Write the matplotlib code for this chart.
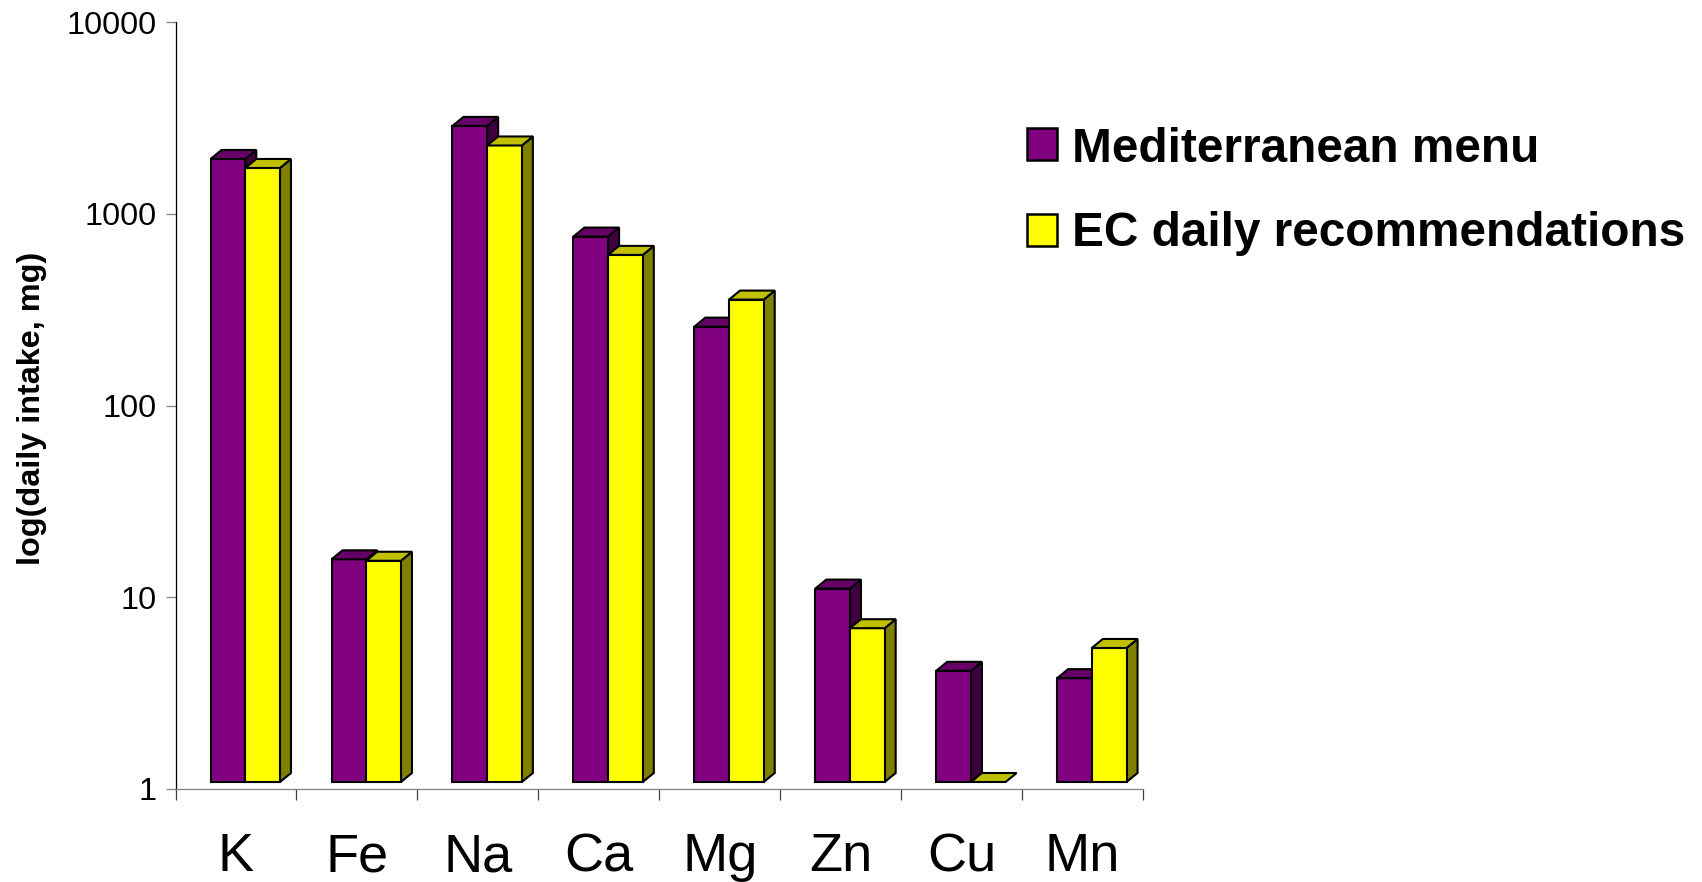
import numpy as np
import matplotlib
matplotlib.use("Agg")
import matplotlib.pyplot as plt
from matplotlib.patches import Rectangle

plt.rcParams["font.family"] = ["Liberation Sans", "DejaVu Sans"]

W, H = 1702, 882
PURPLE = ("#800080", "#660066", "#400040")   # front, top, side
YELLOW = ("#ffff00", "#c0c000", "#808000")

elements = ["K", "Fe", "Na", "Ca", "Mg", "Zn", "Cu", "Mn"]
med_menu = [1775, 14.5, 2640, 699, 237, 10.2, 3.8, 3.48]
ec_recs = [1593, 14.25, 2087, 561, 328, 6.34, 1.0, 5.0]
yticks = [1, 10, 100, 1000, 10000]

# 3d look, in pixels
DEPTH_X, DEPTH_Y = 11, 9
LIFT = 7          # bars stand this far above the axis line
BAR_W = 0.287
BAR_START = 0.29


def px_rect(ax, x0, x1, v):
    (xa, ya) = ax.transData.transform((x0, v))
    (xb, yb) = ax.transData.transform((x1, v))
    (_, y0) = ax.transData.transform((x0, 1))
    return xa, xb, y0 + LIFT, yb + LIFT


def bar3d(ax, x0, x1, v, cols):
    l, r, b, t = px_rect(ax, x0, x1, v)
    dx, dy = DEPTH_X, DEPTH_Y
    kw = dict(edgecolor="black", lw=1.5, joinstyle="miter", transform=None, clip_on=False)
    if t - b > 0.5:
        ax.fill([r, r + dx, r + dx, r], [b, b + dy, t + dy, t], facecolor=cols[2], **kw)
        ax.fill([l, r, r, l], [b, b, t, t], facecolor=cols[0], **kw)
    ax.fill([l, r, r + dx, l + dx], [t, t, t + dy, t + dy], facecolor=cols[1], **kw)


fig = plt.figure(figsize=(W / 100, H / 100), dpi=100)
ax = fig.add_axes([175.5 / W, (H - 789) / H, 967.5 / W, 767 / H])
ax.set_yscale("log")
ax.set_ylim(1, 10000)
ax.set_xlim(0, len(elements))
ax.patch.set_visible(False)

for i in range(len(elements)):
    x0 = i + BAR_START
    bar3d(ax, x0, x0 + BAR_W, med_menu[i], PURPLE)
    bar3d(ax, x0 + BAR_W, x0 + 2 * BAR_W, ec_recs[i], YELLOW)

ax.spines["top"].set_visible(False)
ax.spines["right"].set_visible(False)
ax.spines["left"].set_color("black")
ax.spines["left"].set_linewidth(0.9)
ax.spines["bottom"].set_color("#808080")
ax.spines["bottom"].set_linewidth(0.9)

ax.set_yticks(yticks)
ax.set_yticklabels([str(v) for v in yticks], fontsize=23.3)
ax.minorticks_off()
ax.tick_params(axis="y", length=7.5, width=0.9, color="#808080", pad=5.8)

ax.set_xticks(np.arange(len(elements) + 1))
ax.set_xticklabels([])
ax.set_xticks(np.arange(len(elements)) + 0.5, minor=True)
ax.set_xticklabels(elements, minor=True, fontsize=39)
ax.tick_params(axis="x", which="major", length=8, width=0.9, color="#404040")
ax.tick_params(axis="x", which="minor", length=0, pad=31)

fig.text(32 / W, 1 - 408 / H, "log(daily intake, mg)", rotation=90, fontsize=23.3,
         fontweight="bold", ha="center", va="center")

# legend
for y_top, col, label, base in [(128, PURPLE[0], "Mediterranean menu", 162),
                                (214, YELLOW[0], "EC daily recommendations", 246)]:
    fig.add_artist(Rectangle((1027 / W, 1 - (y_top + 32) / H), 30 / W, 32 / H, facecolor=col,
                             edgecolor="black", lw=1.8, transform=fig.transFigure))
    fig.text(1072 / W, 1 - base / H, label, fontsize=34.4, fontweight="bold", ha="left", va="baseline")

fig.savefig("out.png", dpi=100)
